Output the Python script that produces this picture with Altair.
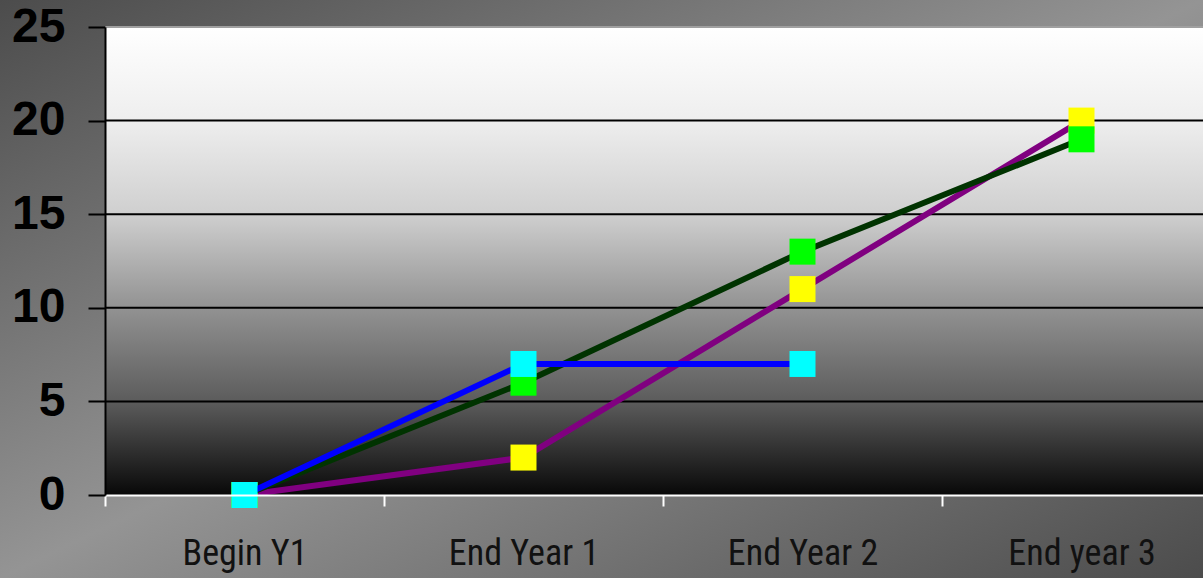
import json
import altair as alt
import pandas as pd

# ---- data ----
categories = ["Begin Y1", "End Year 1", "End Year 2", "End year 3"]
purple_values = [0, 2, 11, 20]     # purple line, yellow squares
green_values = [0, 6, 13, 19]      # dark green line, green squares
blue_values = [0, 7, 7, None]      # blue line, cyan squares
y_ticks = [0, 5, 10, 15, 20, 25]
grid_values = [5, 10, 15, 20, 25]

series = [
    ("Series 1", purple_values, "#800080", "#ffff00"),
    ("Series 2", green_values, "#003300", "#00ff00"),
    ("Series 3", blue_values, "#0000ff", "#00ffff"),
]

# ---- layout ----
W, H = 1098, 468
PAD = {"left": 105, "top": 27, "right": 0, "bottom": 83}
STEP = 279.0  # px per category

x_scale = alt.Scale(domain=[-0.5, -0.5 + W / STEP], nice=False, zero=False)
y_scale = alt.Scale(domain=[0, 25], nice=False, zero=False)

boundaries = [i - 0.5 for i in range(len(categories))]
centers = list(range(len(categories)))
x_axis = alt.Axis(
    title=None,
    values=sorted(boundaries + centers),
    labelExpr=f"datum.value % 1 == 0 ? {json.dumps(categories)}[datum.value] : ''",
    labelFont="Liberation Sans Narrow, Arial Narrow, Roboto Condensed, Roboto, Liberation Sans",
    labelFontSize=36,
    labelColor="#111111",
    labelPadding=30,
    labelFlush=False,
    labelOverlap=False,
    labelBound=False,
    domainColor="white",
    domainWidth=2,
    tickColor="white",
    tickWidth=2,
    tickSize=11,
    tickOpacity={"condition": {"test": "datum.value % 1 != 0", "value": 1}, "value": 0},
    grid=False,
    zindex=1,
)
y_axis = alt.Axis(
    title=None,
    values=y_ticks,
    labelFont="Liberation Sans",
    labelFontSize=48,
    labelFontWeight="bold",
    labelColor="black",
    labelPadding=23,
    labelFlush=False,
    domainColor="black",
    domainWidth=2,
    tickColor="black",
    tickWidth=2,
    tickSize=17,
    grid=False,
    zindex=1,
)

X = alt.X("idx:Q", scale=x_scale, axis=x_axis)
Y = alt.Y("value:Q", scale=y_scale, axis=y_axis)

one = alt.Data(values=[{"a": 1}])

page_bg = alt.Chart(one).mark_rect(
    color=alt.LinearGradient(
        gradient="linear", x1=0, y1=0, x2=1, y2=1,
        stops=[
            alt.GradientStop(offset=0, color="#4c4c4c"),
            alt.GradientStop(offset=0.5, color="#949494"),
            alt.GradientStop(offset=1, color="#4c4c4c"),
        ],
    )
).encode(
    x=alt.value(-PAD["left"]), x2=alt.value(W),
    y=alt.value(-PAD["top"]), y2=alt.value(H + PAD["bottom"]),
)

plot_bg = alt.Chart(one).mark_rect(
    color=alt.LinearGradient(
        gradient="linear", x1=0, y1=0, x2=0, y2=1,
        stops=[
            alt.GradientStop(offset=0, color="#ffffff"),
            alt.GradientStop(offset=0.2, color="#eeeeee"),
            alt.GradientStop(offset=0.4, color="#cfcfcf"),
            alt.GradientStop(offset=0.6, color="#929292"),
            alt.GradientStop(offset=0.8, color="#5c5c5c"),
            alt.GradientStop(offset=1, color="#080808"),
        ],
    )
).encode(x=alt.value(0), x2=alt.value(W), y=alt.value(0), y2=alt.value(H))

grid = alt.Chart(pd.DataFrame({"tick": grid_values})).mark_rule(strokeWidth=2).encode(
    y=alt.Y("tick:Q", scale=y_scale, axis=y_axis),
    color=alt.condition(alt.datum.tick == 25, alt.value("#a0a0a0"), alt.value("black")),
)

layers = [page_bg, plot_bg, grid]
for name, vals, line_color, marker_color in series:
    rows = [{"idx": i, "category": c, "value": v, "series": name}
            for i, (c, v) in enumerate(zip(categories, vals)) if v is not None]
    df = pd.DataFrame(rows)
    base = alt.Chart(df).encode(x=X, y=Y)
    layers.append(base.mark_line(color=line_color, strokeWidth=6))
    layers.append(base.mark_point(shape="square", filled=True, size=676,
                                  color=marker_color, opacity=1))

chart = alt.layer(*layers).properties(
    width=W, height=H, padding=PAD,
    autosize=alt.AutoSizeParams(type="none"),
).configure(background="#707070").configure_view(stroke=None)

chart.save("out.html", embed_options={"renderer": "svg", "actions": False})
